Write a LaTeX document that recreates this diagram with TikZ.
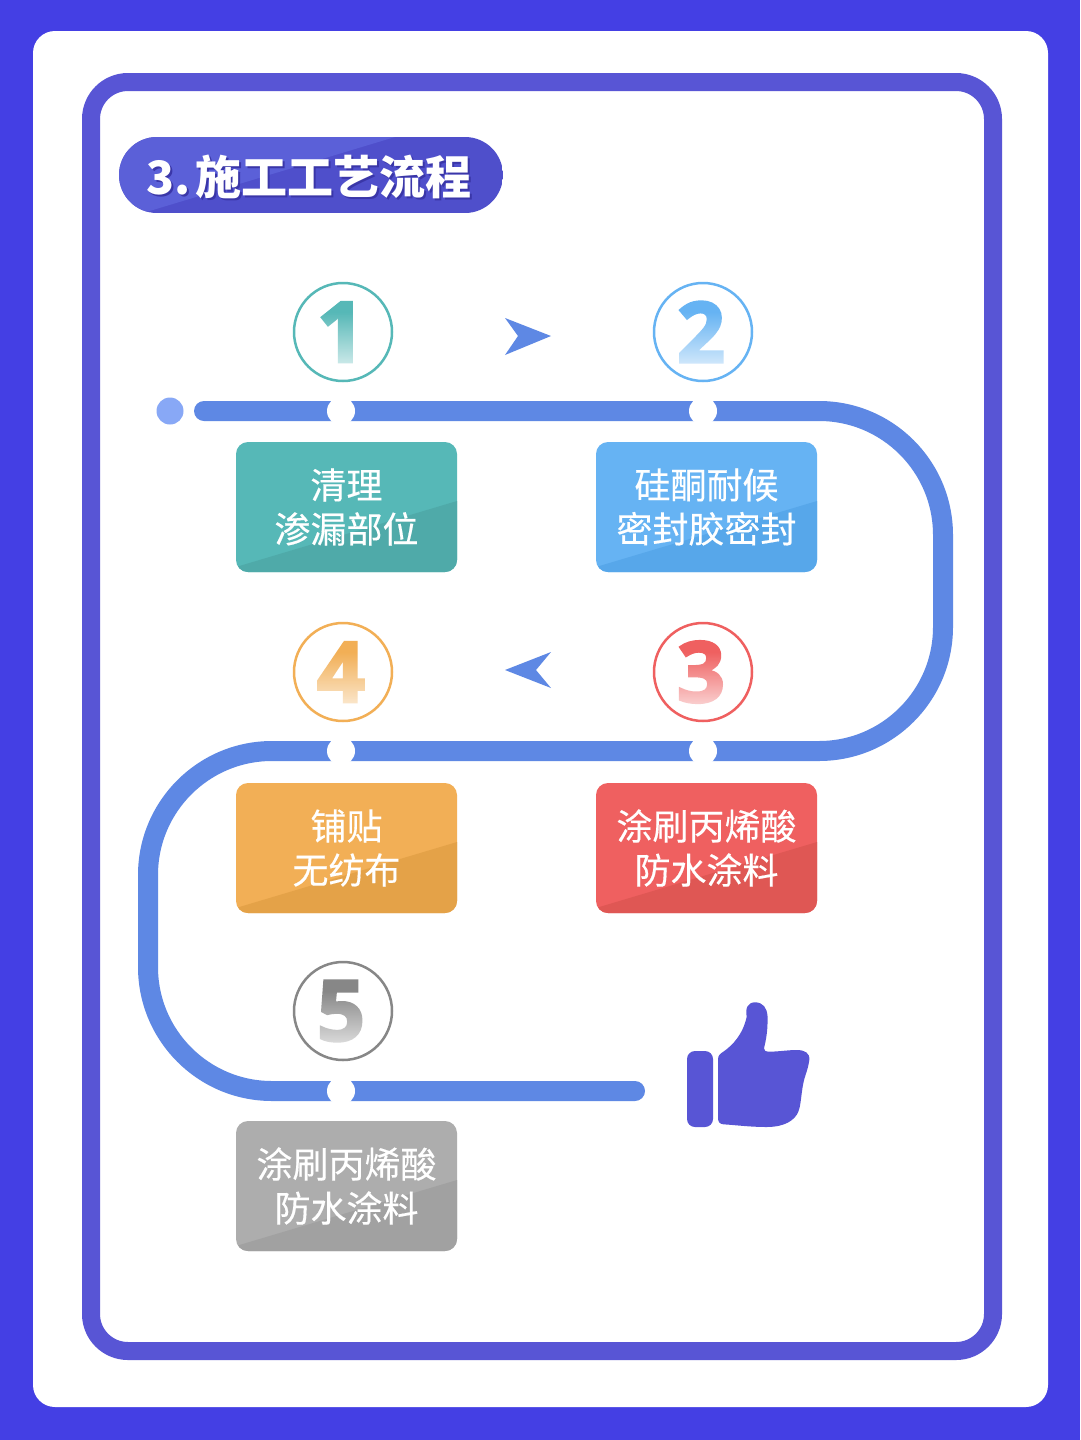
\documentclass[tikz,border=0pt]{standalone}
\usepackage{fontspec}
\usetikzlibrary{fadings}
\newfontfamily\cjk{Noto Sans CJK SC}
\newfontfamily\cjkbox[FakeBold=0.35]{Noto Sans CJK SC}
\newfontfamily\numfont[FakeBold=3]{Open Sans}
\definecolor{bgblue}{HTML}{443FE4}
\definecolor{framecol}{HTML}{5855D5}
\definecolor{trackcol}{HTML}{5E88E4}
\definecolor{dotcol}{HTML}{88A8F6}
\definecolor{pilllight}{HTML}{5B60D8}
\definecolor{pilldark}{HTML}{4F4FCB}
\definecolor{titleshadow}{HTML}{3A36A8}
\definecolor{tealA}{HTML}{56B8B7}
\definecolor{tealB}{HTML}{4FAAA9}
\definecolor{blueA}{HTML}{66B3F3}
\definecolor{blueB}{HTML}{57A7EA}
\definecolor{redA}{HTML}{EF6060}
\definecolor{redB}{HTML}{DF5754}
\definecolor{orangeA}{HTML}{F2AF56}
\definecolor{orangeB}{HTML}{E4A248}
\definecolor{grayA}{HTML}{ADADAD}
\definecolor{grayB}{HTML}{A1A1A1}
\definecolor{grayC}{HTML}{878787}
\tikzfading[name=numwash, top color=transparent!100, bottom color=transparent!20]
\tikzset{
  stepbox/.style 2 args={rounded corners=12, minimum width=221, minimum height=130,
    inner sep=0, align=center, text=white, fill=#1,
    font=\cjkbox\fontsize{36}{44}\selectfont,
    path picture={\fill[#2, sharp corners] ([yshift=5]path picture bounding box.south west) --
      ([yshift=-59]path picture bounding box.north east) --
      (path picture bounding box.south east) -- (path picture bounding box.south west) -- cycle;}},
  numring/.style={circle, draw=#1, line width=2.5, minimum size=98, inner sep=0},
  numtext/.style={text=#1, inner sep=0, font=\numfont\bfseries\fontsize{84}{84}\selectfont},
  numfade/.style={fill=white, path fading=numwash},
  gapdot/.style={circle, fill=white, minimum size=28, inner sep=0},
  flowtip/.style={fill=trackcol}
}
\begin{document}
\begin{tikzpicture}[x=1pt, y=-1pt]
\useasboundingbox (0,0) rectangle (1080,1440);
% Card and frame
\fill[bgblue] (0,0) rectangle (1080,1440);
\fill[white, rounded corners=22] (33,31) rectangle (1048,1407);
\draw[framecol, line width=18, rounded corners=37] (91,82) rectangle (993,1351);

% Title
\begin{scope}
\clip[rounded corners=38] (119,137) rectangle (503,213);
\fill[pilldark] (119,137) rectangle (503,213);
\fill[pilllight] (119,137) -- (395,137) -- (143,213) -- (119,213) -- cycle;
\end{scope}
\node[text=titleshadow, inner sep=0, anchor=west, font=\cjk\bfseries\fontsize{46}{46}\selectfont] (titleback) at (148,178.5) {3.\kern5pt 施工工艺流程};
\node[text=white, inner sep=0, anchor=west, font=\cjk\bfseries\fontsize{46}{46}\selectfont] (title) at (146,176.5) {3.\kern5pt 施工工艺流程};

% Track
\coordinate (trackstart) at (204,411);
\coordinate (trackend) at (635,1091);
\draw[trackcol, line width=20, line cap=round, rounded corners=124] (trackstart) -- (943,411) -- (943,751) -- (148,751) -- (148,1091) -- (trackend);
\node[circle, fill=dotcol, minimum size=27, inner sep=0] (startdot) at (170,411) {};
\node[gapdot] (gap1) at (341,411) {};
\node[gapdot] (gap2) at (703,411) {};
\node[gapdot] (gap3) at (703,751) {};
\node[gapdot] (gap4) at (341,751) {};
\node[gapdot] (gap5) at (341,1091) {};

% Numbers, washed out towards the bottom
\node[numtext=tealA] (num1) at (341,332) {1};
\node[numtext=blueA] (num2) at (701,332) {2};
\node[numtext=redA] (num3) at (701,672) {3};
\node[numtext=orangeA] (num4) at (341,672) {4};
\node[numtext=grayC] (num5) at (341,1011) {5};
\fill[numfade] (312,312) rectangle (374,372);
\fill[numfade] (672,312) rectangle (734,372);
\fill[numfade] (672,652) rectangle (734,712);
\fill[numfade] (312,652) rectangle (374,712);
\fill[numfade] (312,991) rectangle (374,1051);

% Number rings
\node[numring=tealA] (ring1) at (343,332) {};
\node[numring=blueA] (ring2) at (703,332) {};
\node[numring=redA] (ring3) at (703,672) {};
\node[numring=orangeA] (ring4) at (343,672) {};
\node[numring=grayC] (ring5) at (343,1011) {};

% Boxes
\node[stepbox={tealA}{tealB}] (box1) at (346.5,507) {清理\\渗漏部位};
\node[stepbox={blueA}{blueB}] (box2) at (706.5,507) {硅酮耐候\\密封胶密封};
\node[stepbox={redA}{redB}] (box3) at (706.5,848) {涂刷丙烯酸\\防水涂料};
\node[stepbox={orangeA}{orangeB}] (box4) at (346.5,848) {铺贴\\无纺布};
\node[stepbox={grayA}{grayB}] (box5) at (346.5,1186) {涂刷丙烯酸\\防水涂料};

% Direction tips
\fill[flowtip] (551,336) -- (505,318) -- (518,336) -- (505,355) -- cycle;
\fill[flowtip] (505,670) -- (551,652) -- (536,670) -- (551,688) -- cycle;

% Thumb
\fill[framecol, rounded corners=8] (687,1051) rectangle (713,1127);
\fill[framecol] (718,1060) .. controls (718,1055) and (720,1054) .. (723.3,1051.7)
  .. controls (733,1045) and (743,1034) .. (746.7,1016.7)
  .. controls (745,1008) and (748,1002.3) .. (755,1002.3)
  .. controls (763,1002.3) and (767,1008) .. (767.5,1016)
  .. controls (768,1030) and (766,1040) .. (764,1048.3)
  .. controls (764,1051) and (766,1051.7) .. (768.3,1051.7)
  .. controls (778,1051.7) and (788,1050) .. (796.7,1050)
  .. controls (805,1050) and (810,1053) .. (809.3,1060)
  .. controls (808,1070) and (804,1078) .. (803.3,1083.3)
  .. controls (801,1095) and (801,1105) .. (798.3,1111.7)
  .. controls (795,1120) and (785,1127) .. (766.7,1127)
  .. controls (750,1127) and (735,1125) .. (723.3,1124.3)
  .. controls (720,1124) and (718,1122) .. (718,1118.3) -- cycle;
\end{tikzpicture}
\end{document}
